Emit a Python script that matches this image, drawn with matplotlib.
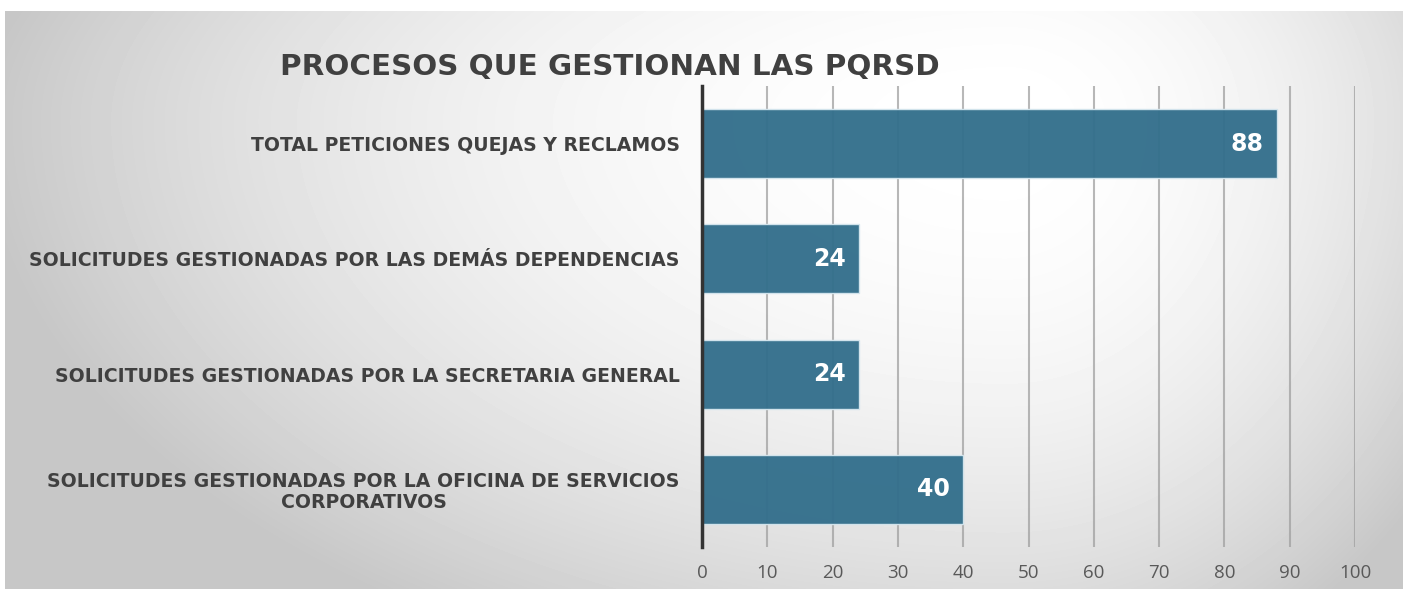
import matplotlib
matplotlib.use("Agg")
import matplotlib.pyplot as plt
import numpy as np

# data (bottom to top, as drawn)
categories = [
    "SOLICITUDES GESTIONADAS POR LA OFICINA DE SERVICIOS\nCORPORATIVOS",
    "SOLICITUDES GESTIONADAS POR LA SECRETARIA GENERAL",
    "SOLICITUDES GESTIONADAS POR LAS DEMÁS DEPENDENCIAS",
    "TOTAL PETICIONES QUEJAS Y RECLAMOS",
]
values = [40, 24, 24, 88]
x_ticks = [0, 10, 20, 30, 40, 50, 60, 70, 80, 90, 100]

W, H = 1409, 589
fig = plt.figure(figsize=(W / 100, H / 100), dpi=100)
fig.patch.set_facecolor("white")

# gradient panel background (panel is 1398 x 578 px)
bg = fig.add_axes([5 / W, 0, (1403 - 5) / W, (H - 11) / H], zorder=-5)
yy, xx = np.mgrid[0:578, 0:1398].astype(float)
cx, cy = 1000.0, 110.0
sx = np.where(xx < cx, 1000.0, 520.0)
sy = np.where(yy > cy, 580.0, 400.0)
r2 = ((xx - cx) / sx) ** 2 + ((yy - cy) / sy) ** 2
shade = np.clip(1.0 - 0.21 * r2, 0.78, 1.0)
bg.imshow(shade, cmap="gray", vmin=0, vmax=1, aspect="auto",
          extent=[0, 1, 0, 1], origin="upper", interpolation="bilinear")
bg.axis("off")

ax = fig.add_axes([702 / W, 1 - 547 / H, (1355 - 702) / W, (547 - 86) / H])
ax.set_facecolor("none")

y = np.arange(len(categories))
bars = ax.barh(y, values, height=0.6, color="#336f8c", edgecolor="#d5e6ee",
               linewidth=1.0, alpha=0.96, zorder=2)

for b, v in zip(bars, values):
    ax.text(b.get_width() - 2.0, b.get_y() + b.get_height() / 2, str(v),
            ha="right", va="center", color="white", fontsize=17,
            fontweight="bold", family="DejaVu Sans", zorder=3)

ax.set_xlim(0, 100)
ax.set_ylim(-0.5, 3.5)
ax.set_xticks(x_ticks)
ax.set_xticklabels([str(t) for t in x_ticks], fontsize=13.5, color="#595959",
                   family="Open Sans")
ax.set_yticks(y)
ax.set_yticklabels(categories, fontsize=13.6, fontweight="bold", color="#404040",
                   family="DejaVu Sans", multialignment="center",
                   linespacing=1.1)
ax.tick_params(axis="x", length=0, pad=12)
ax.tick_params(axis="y", length=0, pad=16)

ax.grid(axis="x", color="#a0a0a0", linewidth=1.5, alpha=0.75, zorder=1)
ax.set_axisbelow(True)
for s in ["top", "right", "bottom"]:
    ax.spines[s].set_visible(False)
ax.spines["left"].set_color("#333333")
ax.spines["left"].set_linewidth(2.5)
ax.spines["left"].set_zorder(4)

fig.text(280 / W, 1 - 67 / H, "PROCESOS QUE GESTIONAN LAS PQRSD", fontsize=21.2,
         fontweight="bold", color="#404040", family="DejaVu Sans",
         ha="left", va="center")

fig.savefig("out.png", dpi=100)
